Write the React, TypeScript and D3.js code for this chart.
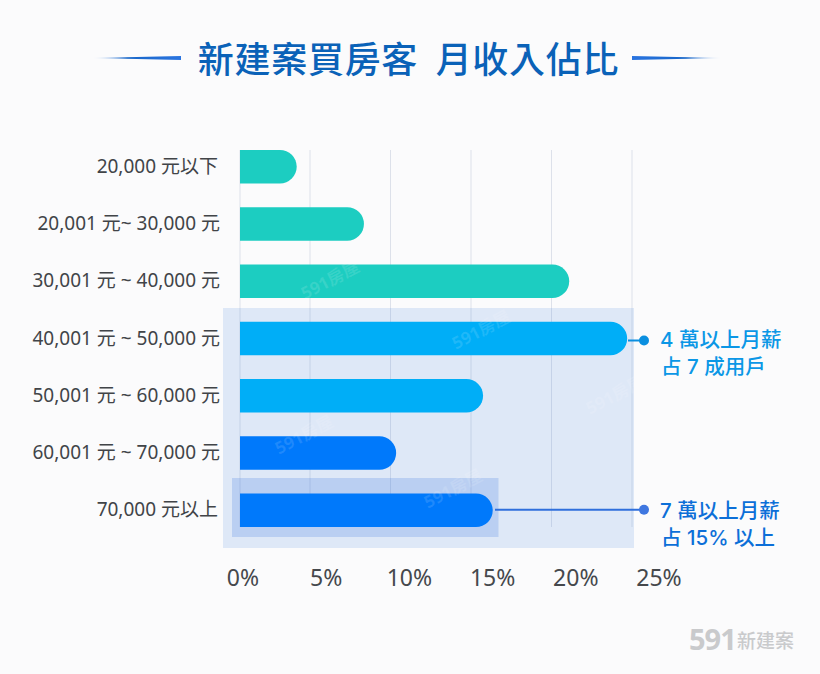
import React from "react";
import * as d3 from "d3";

const categories = ["20,000 元以下", "20,001 元~ 30,000 元", "30,001 元 ~ 40,000 元", "40,001 元 ~ 50,000 元", "50,001 元 ~ 60,000 元", "60,001 元 ~ 70,000 元", "70,000 元以上"];
const values = [4.05, 8.35, 21.1, 24.7, 15.75, 10.35, 16.35];
const barColors = ["#1CCDC1", "#1CCDC1", "#1CCDC1", "#00AEF7", "#00AEF7", "#0079FB", "#0079FB"];
const ticks = [0, 5, 10, 15, 20, 25];
const tickLabels = ["0%", "5%", "10%", "15%", "20%", "25%"];
const titleText = "新建案買房客  月收入佔比";
const watermarks = [[333, 285], [484, 335], [307, 440], [456, 494], [618, 400]];
const FONT = "'Noto Sans CJK TC', 'Noto Sans', sans-serif";
const LATIN = "'Noto Sans', 'Noto Sans CJK TC', sans-serif";
const ANNOT = "Inter, 'Noto Sans CJK TC', sans-serif";

export default function App() {
  const x = d3.scaleLinear().domain([0, 5, 25]).range([240, 310, 632]);
  const labelX = d3.scaleLinear().domain([0, 25]).range([243, 659]);
  const y = d3.scaleBand<string>().domain(categories).range([138.5, 538.5]).paddingInner(0.415).paddingOuter(0.2);
  const h = 33.5;
  const yc = (c: string) => y(c)! + y.bandwidth() / 2;
  const arcPath = (v: number, c: string) => {
    const x0 = x(0), x1 = x(v), top = yc(c) - h / 2, r = h / 2;
    return `M${x0},${top}H${x1 - r}A${r},${r} 0 0 1 ${x1 - r},${top + h}H${x0}Z`;
  };
  const row4 = yc(categories[3]);
  const row7 = yc(categories[6]);
  return (
    <svg width={820} height={674} style={{ position: "absolute", left: 0, top: 0, background: "#FBFBFC" }}>
      <defs>
        <linearGradient id="ruleL" x1="0" x2="1" y1="0" y2="0">
          <stop offset="0" stopColor="#1E6FD9" stopOpacity={0} />
          <stop offset="0.4" stopColor="#1766C8" />
          <stop offset="1" stopColor="#2A74E0" />
        </linearGradient>
        <linearGradient id="ruleR" x1="1" x2="0" y1="0" y2="0">
          <stop offset="0" stopColor="#1E6FD9" stopOpacity={0} />
          <stop offset="0.4" stopColor="#1766C8" />
          <stop offset="1" stopColor="#2A74E0" />
        </linearGradient>
      </defs>
      <text x={408.5} y={73} textAnchor="middle" xmlSpace="preserve" fontFamily={FONT} fontSize={36} fontWeight={500} letterSpacing={0.7} fill="#0A62B8">{titleText}</text>
      <path d="M92,58 L181,56 V60 Z" fill="url(#ruleL)" />
      <path d="M722,58 L632,56 V60 Z" fill="url(#ruleR)" />

      {ticks.map((t) => (
        <line key={t} x1={x(t)} x2={x(t)} y1={150} y2={527} stroke="#DDE1EA" strokeWidth={1} />
      ))}
      <rect x={223} y={308} width={411} height={240} fill="#3A80E0" fillOpacity={0.15} />
      <rect x={232} y={478} width={266.5} height={59} fill="#2F6CE0" fillOpacity={0.2} />

      {categories.map((c, i) => (
        <path key={c} d={arcPath(values[i], c)} fill={barColors[i]} />
      ))}

      {watermarks.map(([wx, wy], i) => (
        <text key={i} x={wx} y={wy} transform={`rotate(-28 ${wx} ${wy})`} fontFamily={LATIN} fontSize={17} fontWeight={700} fill="#FFFFFF" fillOpacity={0.12} textAnchor="middle">591房屋</text>
      ))}

      {categories.map((c) => (
        <text key={c} x={c.endsWith("以上") || c.endsWith("以下") ? 218 : 220} y={yc(c) + 6} textAnchor="end" fontFamily={LATIN} fontSize={19} fill="#414448">{c}</text>
      ))}

      {ticks.map((t, i) => (
        <text key={t} x={labelX(t)} y={586} textAnchor="middle" fontFamily={LATIN} fontSize={23} fill="#45484C">{tickLabels[i]}</text>
      ))}

      <line x1={628} x2={644} y1={row4 + 2} y2={row4 + 2} stroke="#0A8FE0" strokeWidth={2} />
      <circle cx={644} cy={row4 + 2} r={5} fill="#0A8FE0" />
      <text x={660} y={347} fontFamily={ANNOT} fontSize={20.5} fontWeight={500} fill="#0B97E6">4 萬以上月薪</text>
      <text x={661} y={374} fontFamily={ANNOT} fontSize={20.5} fontWeight={500} fill="#0B97E6">占 7 成用戶</text>

      <line x1={495} x2={644} y1={row7 - 0.5} y2={row7 - 0.5} stroke="#2F6FDC" strokeWidth={2} />
      <circle cx={644} cy={row7 - 0.5} r={5} fill="#3F77E0" />
      <text x={660} y={518} fontFamily={ANNOT} fontSize={20.5} fontWeight={500} fill="#0C6FD8">7 萬以上月薪</text>
      <text x={661} y={545} fontFamily={ANNOT} fontSize={20.5} fontWeight={500} fill="#0C6FD8">占 15% 以上</text>

      <text x={689} y={650} fontFamily={LATIN} fontSize={29} fontWeight={700} letterSpacing={-1} fill="#C9CACC">591</text>
      <text x={737} y={648} fontFamily={FONT} fontSize={19} fontWeight={500} fill="#C9CACC">新建案</text>
    </svg>
  );
}
